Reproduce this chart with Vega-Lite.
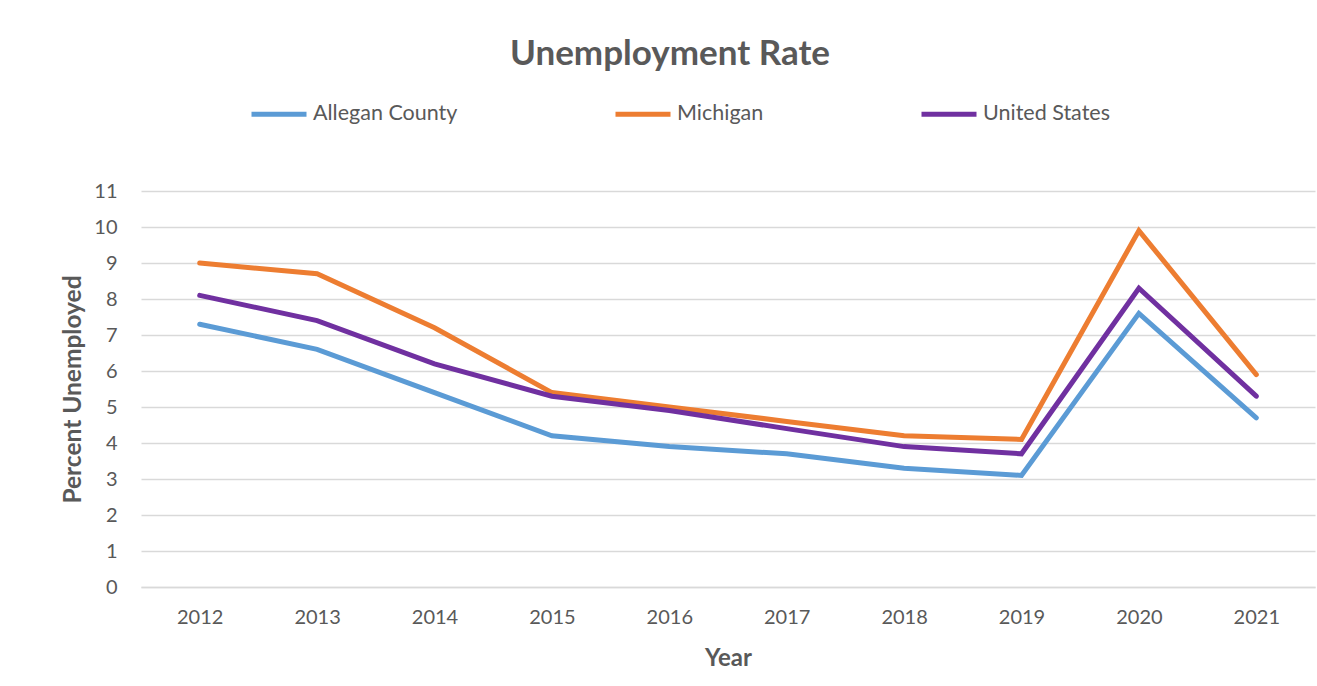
{
  "$schema": "https://vega.github.io/schema/vega-lite/v6.json",
  "width": 1174,
  "height": 396,
  "autosize": {"type": "none"},
  "padding": {"left": 141, "top": 191, "right": 2, "bottom": 99},
  "background": "white",
  "title": {
    "text": "Unemployment Rate",
    "font": "Lato",
    "fontSize": 35,
    "fontWeight": "bold",
    "color": "#595959",
    "anchor": "middle",
    "dx": -58,
    "offset": 12
  },
  "data": {
    "values": [
      {"year": "2012", "area": "Allegan County", "rate": 7.3},
      {"year": "2013", "area": "Allegan County", "rate": 6.6},
      {"year": "2014", "area": "Allegan County", "rate": 5.4},
      {"year": "2015", "area": "Allegan County", "rate": 4.2},
      {"year": "2016", "area": "Allegan County", "rate": 3.9},
      {"year": "2017", "area": "Allegan County", "rate": 3.7},
      {"year": "2018", "area": "Allegan County", "rate": 3.3},
      {"year": "2019", "area": "Allegan County", "rate": 3.1},
      {"year": "2020", "area": "Allegan County", "rate": 7.6},
      {"year": "2021", "area": "Allegan County", "rate": 4.7},
      {"year": "2012", "area": "Michigan", "rate": 9.0},
      {"year": "2013", "area": "Michigan", "rate": 8.7},
      {"year": "2014", "area": "Michigan", "rate": 7.2},
      {"year": "2015", "area": "Michigan", "rate": 5.4},
      {"year": "2016", "area": "Michigan", "rate": 5.0},
      {"year": "2017", "area": "Michigan", "rate": 4.6},
      {"year": "2018", "area": "Michigan", "rate": 4.2},
      {"year": "2019", "area": "Michigan", "rate": 4.1},
      {"year": "2020", "area": "Michigan", "rate": 9.9},
      {"year": "2021", "area": "Michigan", "rate": 5.9},
      {"year": "2012", "area": "United States", "rate": 8.1},
      {"year": "2013", "area": "United States", "rate": 7.4},
      {"year": "2014", "area": "United States", "rate": 6.2},
      {"year": "2015", "area": "United States", "rate": 5.3},
      {"year": "2016", "area": "United States", "rate": 4.9},
      {"year": "2017", "area": "United States", "rate": 4.4},
      {"year": "2018", "area": "United States", "rate": 3.9},
      {"year": "2019", "area": "United States", "rate": 3.7},
      {"year": "2020", "area": "United States", "rate": 8.3},
      {"year": "2021", "area": "United States", "rate": 5.3}
    ]
  },
  "mark": {"type": "line", "strokeWidth": 5, "strokeCap": "round", "strokeJoin": "miter"},
  "encoding": {
    "x": {
      "field": "year",
      "type": "ordinal",
      "scale": {"type": "point", "padding": 0.5},
      "axis": {
        "title": "Year",
        "labelAngle": 0,
        "ticks": false,
        "domain": true,
        "domainColor": "#d9d9d9",
        "domainWidth": 1.5,
        "grid": false,
        "labelPadding": 20,
        "titlePadding": 19
      }
    },
    "y": {
      "field": "rate",
      "type": "quantitative",
      "scale": {"domain": [0, 11], "nice": false},
      "axis": {
        "title": "Percent Unemployed",
        "values": [0, 1, 2, 3, 4, 5, 6, 7, 8, 9, 10, 11],
        "ticks": false,
        "domain": false,
        "grid": true,
        "gridColor": "#d9d9d9",
        "gridWidth": 1.5,
        "labelPadding": 24,
        "titlePadding": 8,
        "titleFontSize": 24.5
      }
    },
    "stroke": {
      "field": "area",
      "type": "nominal",
      "scale": {
        "domain": ["Allegan County", "Michigan", "United States"],
        "range": ["#5B9BD5", "#ED7D31", "#7030A0"]
      },
      "legend": {
        "title": null,
        "orient": "none",
        "direction": "horizontal",
        "legendX": 108,
        "legendY": -107,
        "columnPadding": 147,
        "symbolType": "stroke",
        "symbolSize": 3025,
        "symbolStrokeWidth": 5,
        "labelFontSize": 21.5,
        "labelFont": "Lato",
        "labelColor": "#595959",
        "labelOffset": 4
      }
    }
  },
  "config": {
    "view": {"stroke": null},
    "axis": {
      "labelFont": "Lato",
      "labelFontSize": 20,
      "labelColor": "#595959",
      "titleFont": "Lato",
      "titleFontSize": 24,
      "titleFontWeight": "bold",
      "titleColor": "#595959"
    }
  }
}
